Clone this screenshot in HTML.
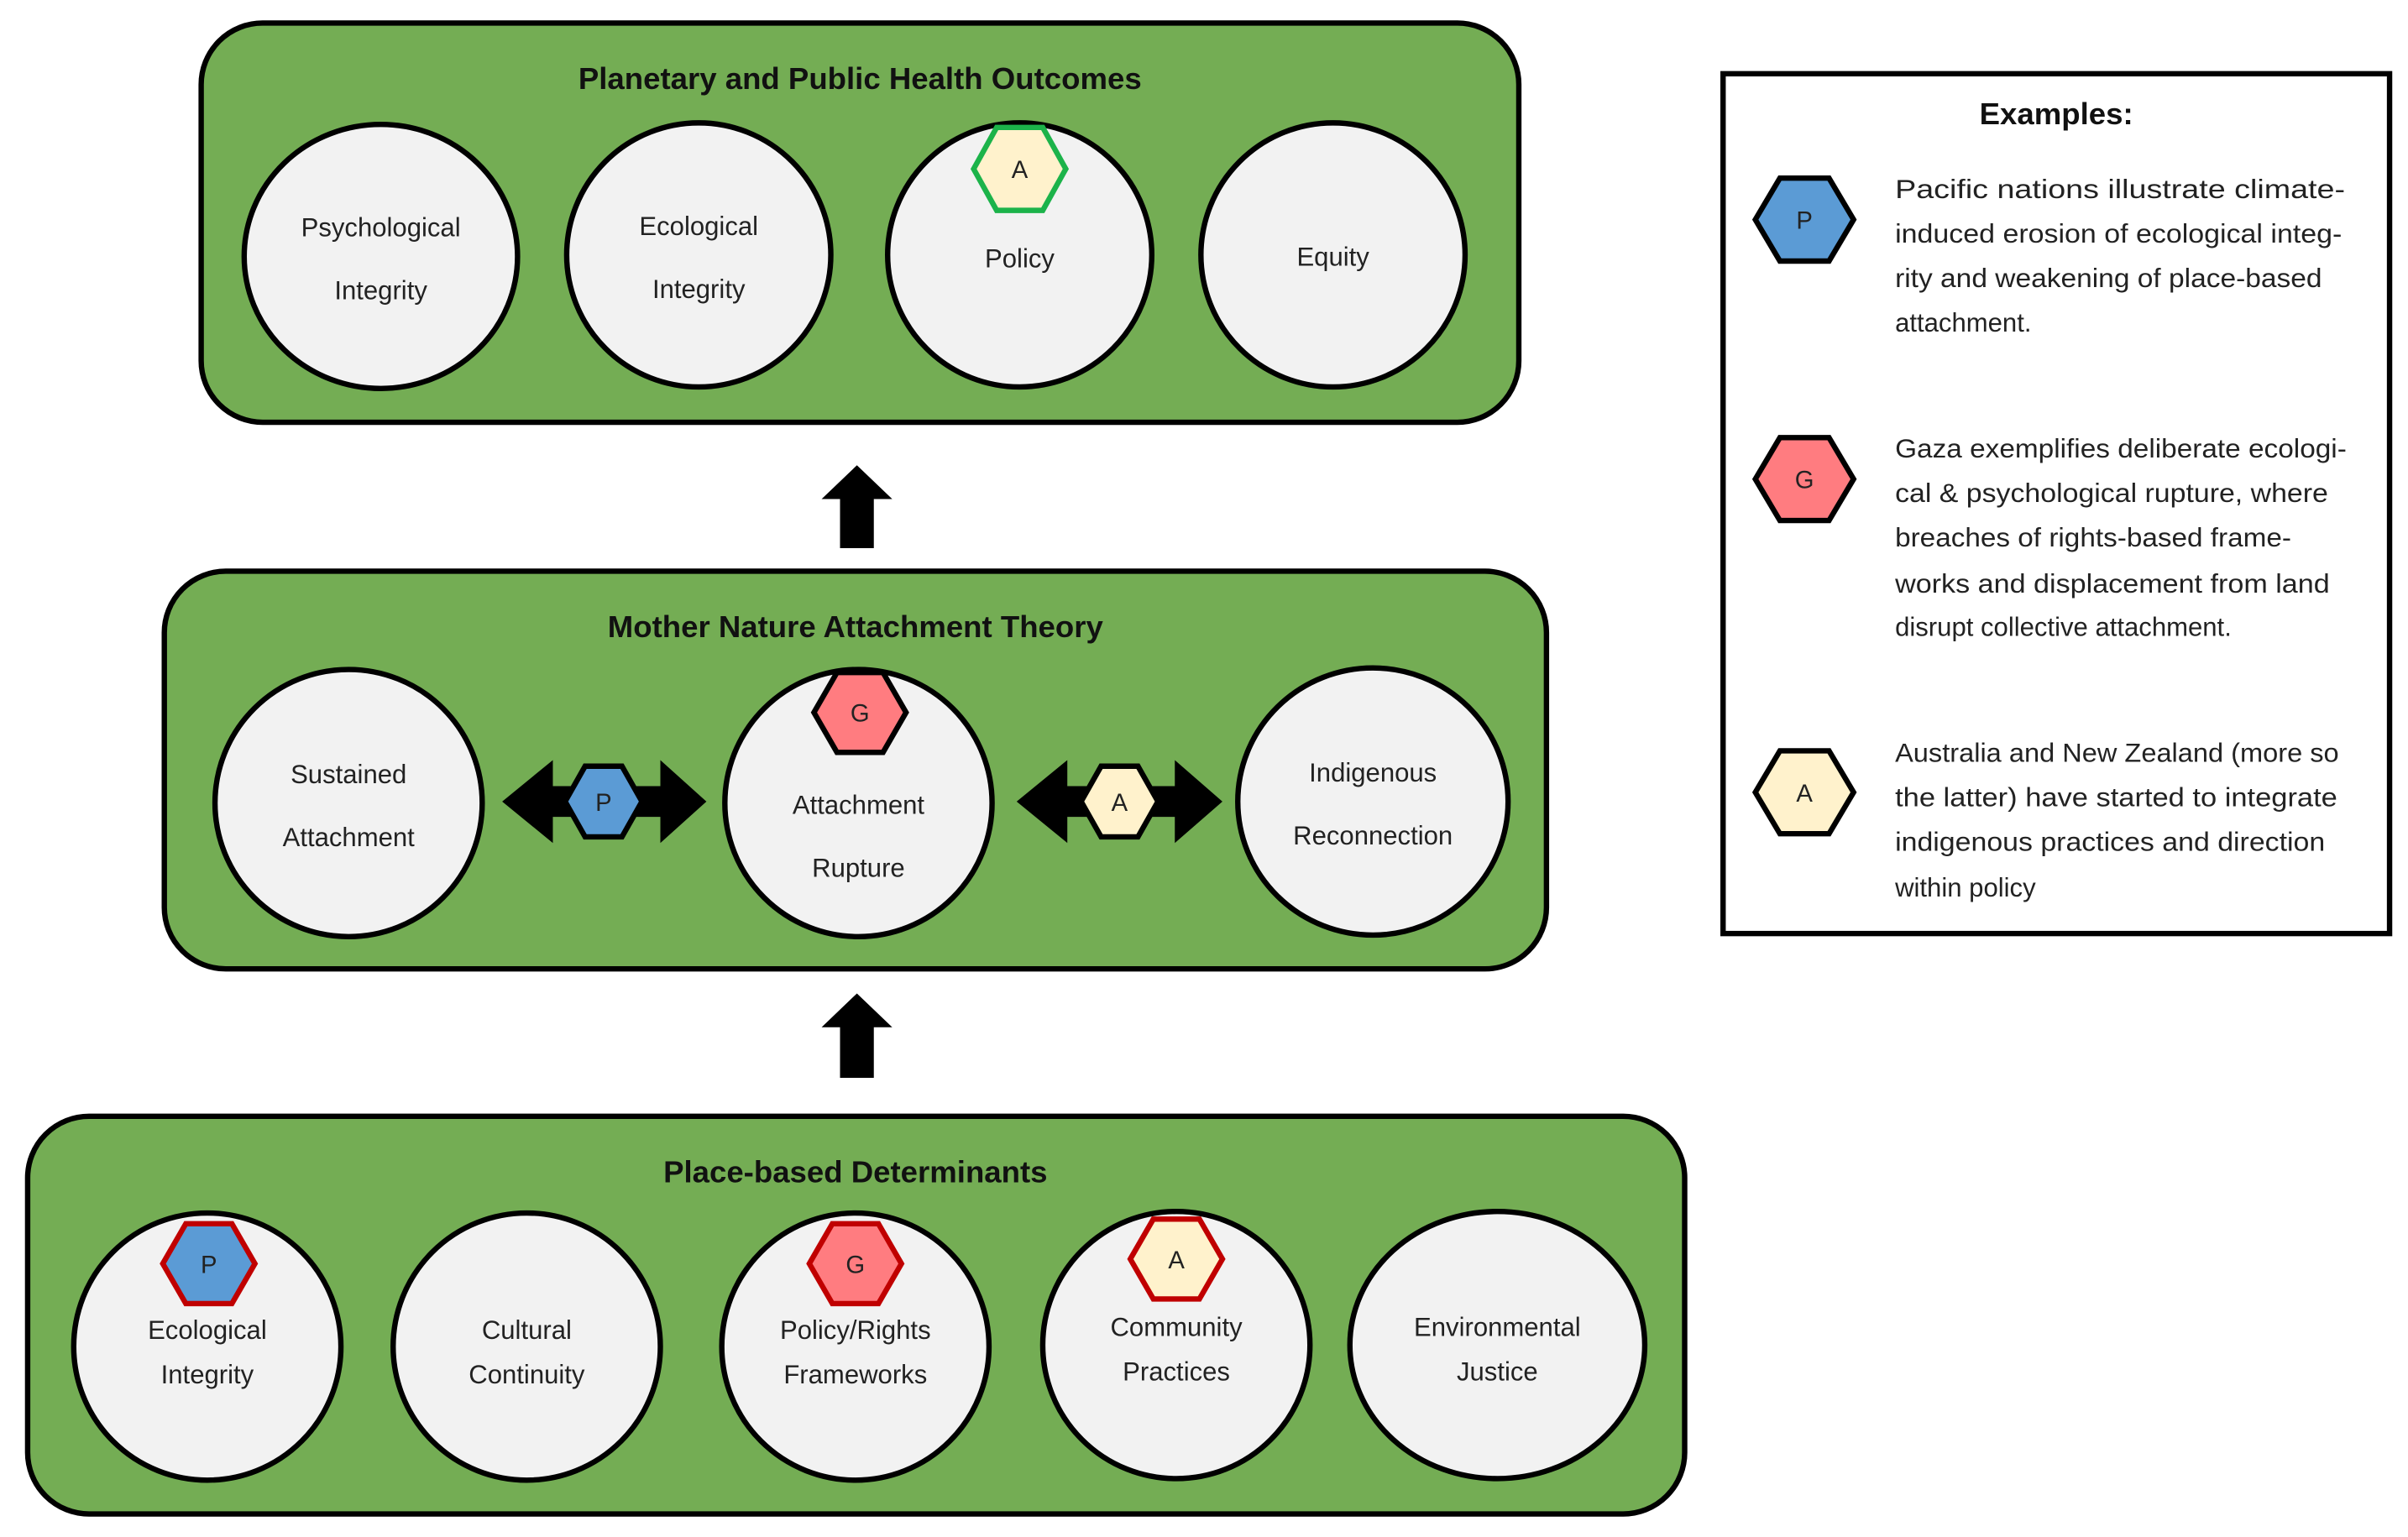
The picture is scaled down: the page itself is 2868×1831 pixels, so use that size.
<!DOCTYPE html>
<html><head><meta charset="utf-8"><style>html,body{margin:0;padding:0;background:#fff}svg{display:block}</style></head>
<body>
<svg width="2868" height="1831" viewBox="0 0 1568 1001" xmlns="http://www.w3.org/2000/svg" font-family="Liberation Sans, sans-serif">
<defs>
<style>
.box{fill:#74ad54;stroke:#000;stroke-width:3.5}
.c{fill:#f2f2f2;stroke:#000;stroke-width:3.5}
.t{font-size:17px;fill:#222;text-anchor:middle}
.h{font-size:20px;font-weight:bold;fill:#111;text-anchor:middle}
.l{font-size:17px;fill:#222}
.hx{font-size:16px;fill:#222;text-anchor:middle}
</style>
</defs>
<rect class="box" x="131" y="15" width="858" height="260" rx="40"/>
<text class="h" x="560" y="58">Planetary and Public Health Outcomes</text>
<ellipse class="c" cx="248" cy="167" rx="89" ry="86"/>
<text class="t" x="248" y="154">Psychological</text><text class="t" x="248" y="195">Integrity</text>
<ellipse class="c" cx="455" cy="166" rx="86" ry="86"/>
<text class="t" x="455" y="153">Ecological</text><text class="t" x="455" y="194">Integrity</text>
<ellipse class="c" cx="664" cy="166" rx="86" ry="86"/>
<text class="t" x="664" y="174">Policy</text>
<ellipse class="c" cx="868" cy="166" rx="86" ry="86"/>
<text class="t" x="868" y="173">Equity</text>
<polygon points="634,110 649,83 679,83 694,110 679,137 649,137" fill="#fff2cc" stroke="#1cb34a" stroke-width="3.5"/>
<text class="hx" x="664" y="116">A</text>

<polygon points="558,303 581,325 569,325 569,357 547,357 547,325 535,325" fill="#000"/>

<rect class="box" x="107" y="372" width="900" height="259" rx="40"/>
<text class="h" x="557" y="415">Mother Nature Attachment Theory</text>
<ellipse class="c" cx="227" cy="523" rx="87" ry="87"/>
<text class="t" x="227" y="510">Sustained</text><text class="t" x="227" y="551">Attachment</text>
<ellipse class="c" cx="559" cy="523" rx="87" ry="87"/>
<text class="t" x="559" y="530">Attachment</text><text class="t" x="559" y="571">Rupture</text>
<ellipse class="c" cx="894" cy="522" rx="88" ry="87"/>
<text class="t" x="894" y="509">Indigenous</text><text class="t" x="894" y="550">Reconnection</text>
<polygon points="530,464 545,438 575,438 590,464 575,490 545,490" fill="#ff7c80" stroke="#000" stroke-width="3.5"/>
<text class="hx" x="560" y="470">G</text>
<polygon points="327,522 360,495 360,512 430,512 430,495 460,522 430,549 430,532 360,532 360,549" fill="#000"/>
<polygon points="368,522 381,499 405,499 418,522 405,545 381,545" fill="#5b9bd5" stroke="#000" stroke-width="3.5"/>
<text class="hx" x="393" y="528">P</text>
<polygon points="662,522 695,495 695,512 765,512 765,495 796,522 765,549 765,532 695,532 695,549" fill="#000"/>
<polygon points="704,522 717,499 741,499 754,522 741,545 717,545" fill="#fff2cc" stroke="#000" stroke-width="3.5"/>
<text class="hx" x="729" y="528">A</text>

<polygon points="558,647 581,669 569,669 569,702 547,702 547,669 535,669" fill="#000"/>

<rect class="box" x="18" y="727" width="1079" height="259" rx="40"/>
<text class="h" x="557" y="770">Place-based Determinants</text>
<ellipse class="c" cx="135" cy="877" rx="87" ry="87"/>
<text class="t" x="135" y="872">Ecological</text><text class="t" x="135" y="901">Integrity</text>
<ellipse class="c" cx="343" cy="877" rx="87" ry="87"/>
<text class="t" x="343" y="872">Cultural</text><text class="t" x="343" y="901">Continuity</text>
<ellipse class="c" cx="557" cy="877" rx="87" ry="87"/>
<text class="t" x="557" y="872">Policy/Rights</text><text class="t" x="557" y="901">Frameworks</text>
<ellipse class="c" cx="766" cy="876" rx="87" ry="87"/>
<text class="t" x="766" y="870">Community</text><text class="t" x="766" y="899">Practices</text>
<ellipse class="c" cx="975" cy="876" rx="96" ry="87"/>
<text class="t" x="975" y="870">Environmental</text><text class="t" x="975" y="899">Justice</text>
<polygon points="106,823 121,797 151,797 166,823 151,849 121,849" fill="#5b9bd5" stroke="#c00000" stroke-width="3.5"/>
<text class="hx" x="136" y="829">P</text>
<polygon points="527,823 542,797 572,797 587,823 572,849 542,849" fill="#ff7c80" stroke="#c00000" stroke-width="3.5"/>
<text class="hx" x="557" y="829">G</text>
<polygon points="736,820 751,794 781,794 796,820 781,846 751,846" fill="#fff2cc" stroke="#c00000" stroke-width="3.5"/>
<text class="hx" x="766" y="826">A</text>

<rect x="1122" y="48" width="434" height="560" fill="#fff" stroke="#000" stroke-width="3.5"/>
<text class="h" x="1339" y="81">Examples:</text>
<polygon points="1143,143 1159,116 1191,116 1207,143 1191,170 1159,170" fill="#5b9bd5" stroke="#000" stroke-width="3.5"/>
<text class="hx" x="1175" y="149">P</text>
<polygon points="1143,312 1159,285 1191,285 1207,312 1191,339 1159,339" fill="#ff7c80" stroke="#000" stroke-width="3.5"/>
<text class="hx" x="1175" y="318">G</text>
<polygon points="1143,516 1159,489 1191,489 1207,516 1191,543 1159,543" fill="#fff2cc" stroke="#000" stroke-width="3.5"/>
<text class="hx" x="1175" y="522">A</text>

<text class="l" x="1234" y="129" textLength="293" lengthAdjust="spacingAndGlyphs">Pacific nations illustrate climate-</text>
<text class="l" x="1234" y="158" textLength="291" lengthAdjust="spacingAndGlyphs">induced erosion of ecological integ-</text>
<text class="l" x="1234" y="187" textLength="278" lengthAdjust="spacingAndGlyphs">rity and weakening of place-based</text>
<text class="l" x="1234" y="216">attachment.</text>

<text class="l" x="1234" y="298" textLength="294" lengthAdjust="spacingAndGlyphs">Gaza exemplifies deliberate ecologi-</text>
<text class="l" x="1234" y="327" textLength="282" lengthAdjust="spacingAndGlyphs">cal &amp; psychological rupture, where</text>
<text class="l" x="1234" y="356" textLength="258" lengthAdjust="spacingAndGlyphs">breaches of rights-based frame-</text>
<text class="l" x="1234" y="386" textLength="283" lengthAdjust="spacingAndGlyphs">works and displacement from land</text>
<text class="l" x="1234" y="414">disrupt collective attachment.</text>

<text class="l" x="1234" y="496" textLength="289" lengthAdjust="spacingAndGlyphs">Australia and New Zealand (more so</text>
<text class="l" x="1234" y="525" textLength="288" lengthAdjust="spacingAndGlyphs">the latter) have started to integrate</text>
<text class="l" x="1234" y="554" textLength="280" lengthAdjust="spacingAndGlyphs">indigenous practices and direction</text>
<text class="l" x="1234" y="584">within policy</text>
</svg>
</body></html>
